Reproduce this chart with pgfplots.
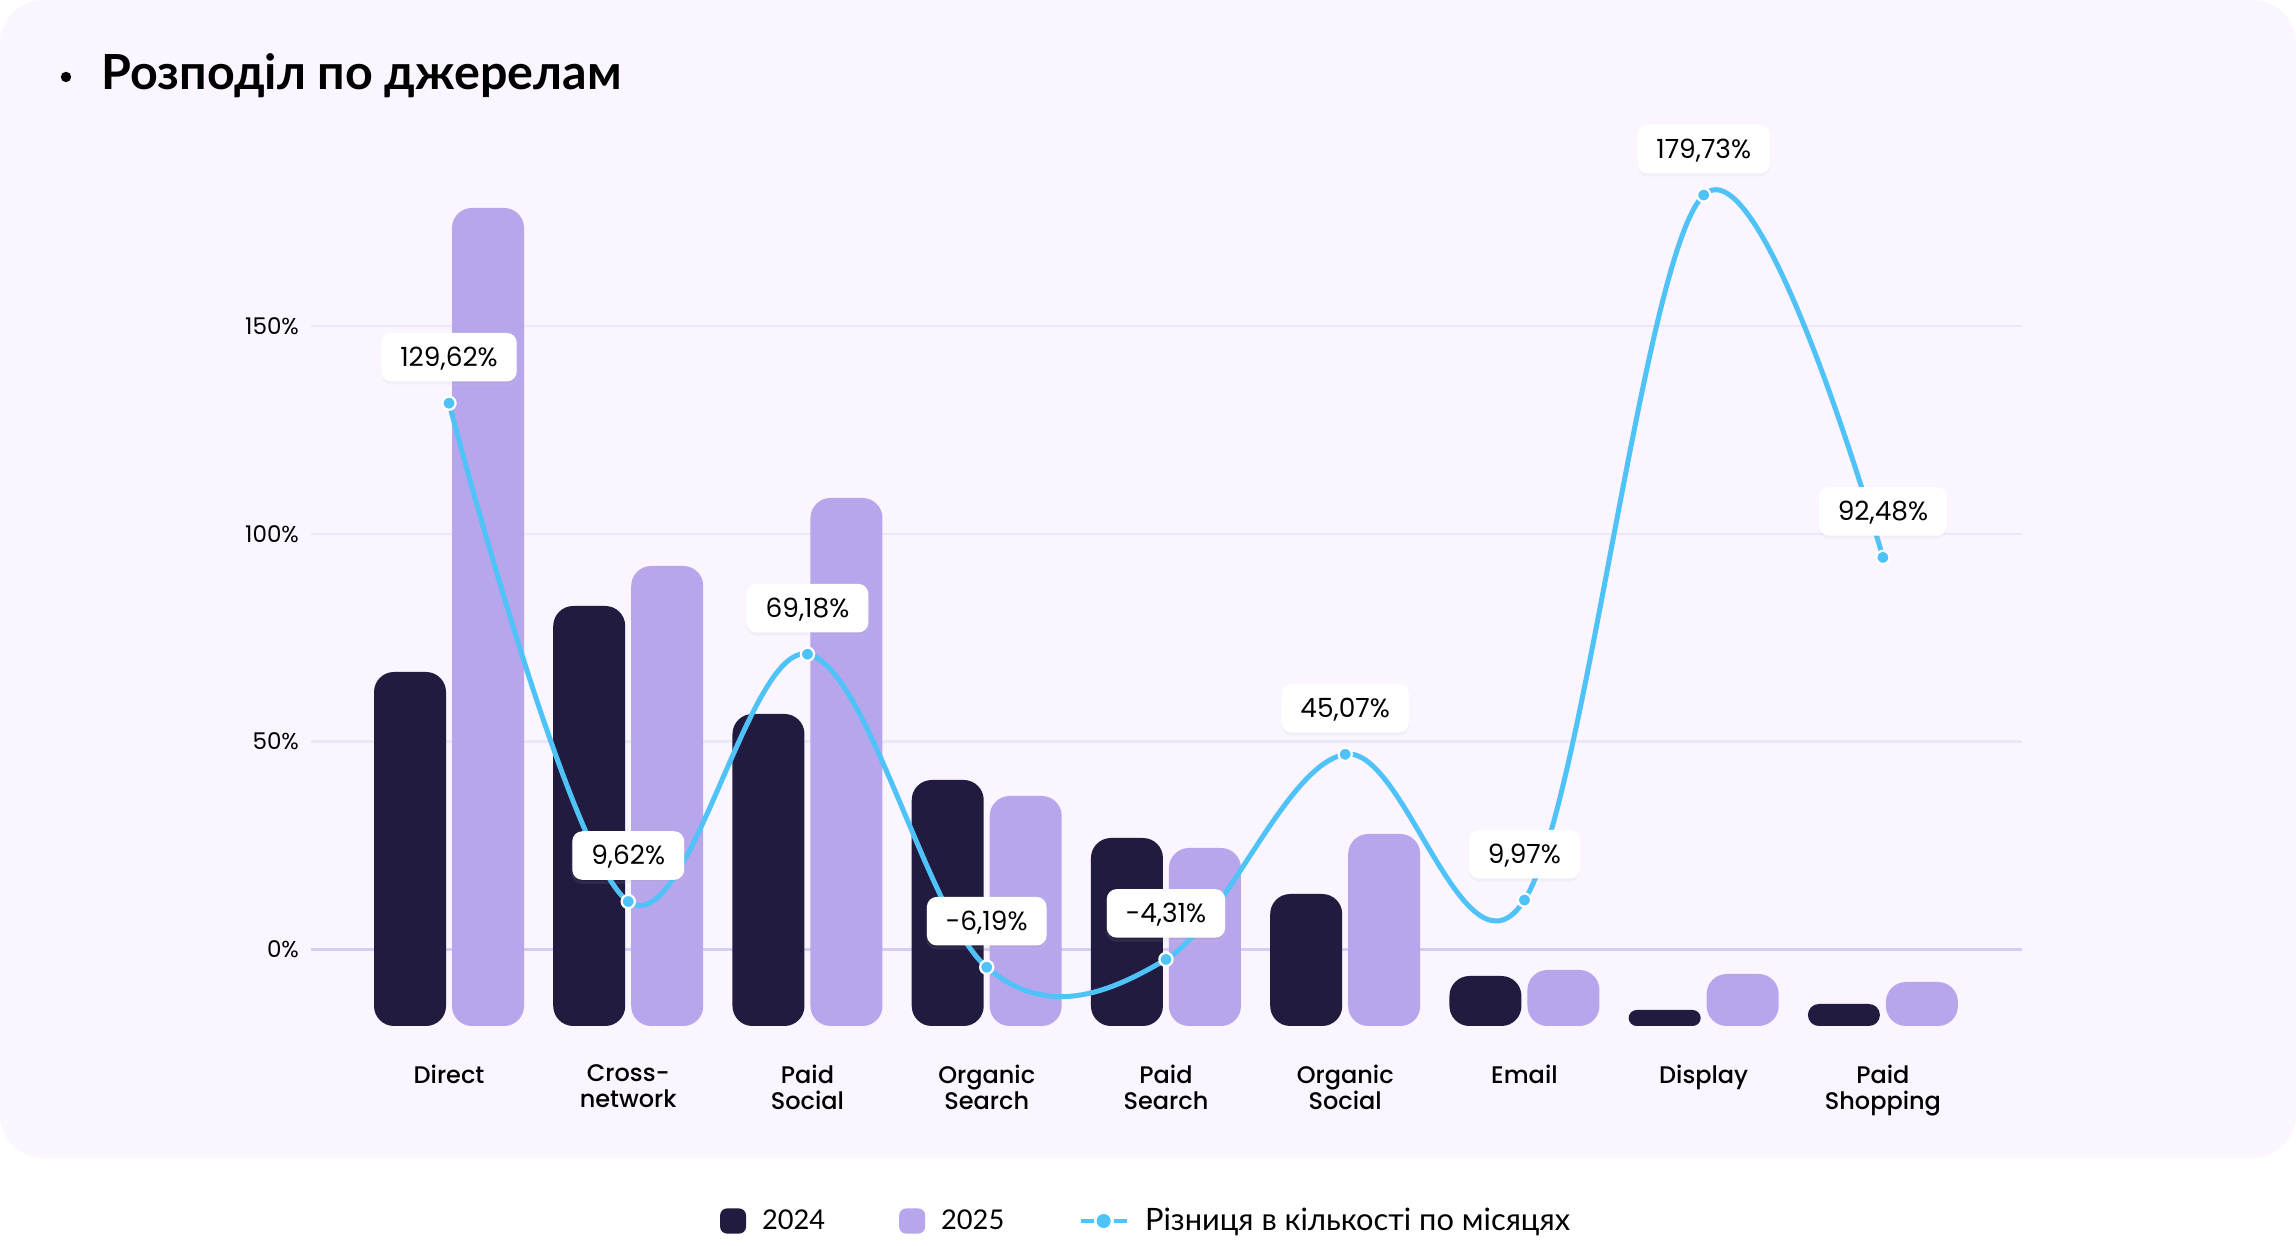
\documentclass[border=0pt]{standalone}
\usepackage{fontspec}
\setmainfont{Poppins}
\newfontfamily\poppinsmed{Poppins Medium}
\newfontfamily\lato{Lato}
\usepackage{pgfplots}
\pgfplotsset{compat=1.18}
\usetikzlibrary{shadows}
\definecolor{cardbg}{RGB}{250,245,254}
\definecolor{bar24}{RGB}{34,27,64}
\definecolor{bar25}{RGB}{183,166,235}
\definecolor{linec}{RGB}{79,195,247}
\definecolor{gridc}{RGB}{236,231,250}
\definecolor{zeroc}{RGB}{214,205,242}
\begin{document}
\begin{tikzpicture}
\fill[white] (0pt,0pt) rectangle (1148pt,623pt);
\fill[cardbg, rounded corners=22pt] (0pt,44pt) rectangle (1148pt,623pt);
\fill[black] (33pt,584.5pt) circle (2.6pt);
\node[anchor=base west, inner sep=0pt, font=\lato\bfseries\fontsize{24.2}{28}\selectfont] at (50.5pt,578pt) {Розподіл по джерелам};

\begin{axis}[
  at={(155.35pt,110pt)}, anchor=south west,
  scale only axis, width=855.65pt, height=463pt,
  xmin=-0.7716, xmax=8.776, ymin=0, ymax=926,
  axis line style={draw=none},
  major tick length=0pt,
  ybar, bar width=36pt,
  xtick={0,...,8},
  xticklabels={Direct,{Cross-\\network},{Paid\\Social},{Organic\\Search},{Paid\\Search},{Organic\\Social},Email,Display,{Paid\\Shopping}},
  xticklabel style={align=center, font=\poppinsmed\fontsize{12}{13}\selectfont, anchor=north, yshift=-16pt, text=black},
  ytick={284.3,492.1,699.9},
  yticklabels={50\%,100\%,150\%},
  extra y ticks={76.5},
  extra y tick labels={0\%},
  extra y tick style={grid style={zeroc, line width=1.4pt}},
  ymajorgrids, grid style={gridc, line width=1.3pt},
  yticklabel style={font=\fontsize{11.5}{13}\selectfont, anchor=east, xshift=-2.35pt, text=black},
  clip=false,
  legend columns=3,
  legend style={at={(0.4887,-0.2106)}, anchor=center, draw=none, fill=none,
    font=\lato\fontsize{15.4}{17}\selectfont, column sep=6pt,
    /tikz/every even column/.append style={column sep=35pt}},
  legend cell align=left,
]
\addplot[fill=bar24, draw=none, rounded corners=10pt, bar shift=-19.5pt,
  legend image code/.code={\fill[bar24, rounded corners=3.5pt] (0pt,-6.3pt) rectangle (13pt,6.3pt);}]
  coordinates {(0,354) (1,420) (2,312) (3,246) (4,188) (5,132) (6,50)};
\addlegendentry{\fontsize{13.6}{16}\selectfont 2024}
\addplot[forget plot, fill=bar24, draw=none, rounded corners=4pt, bar shift=-19.5pt] coordinates {(7,16)};
\addplot[forget plot, fill=bar24, draw=none, rounded corners=5.5pt, bar shift=-19.5pt] coordinates {(8,22)};
\addplot[fill=bar25, draw=none, rounded corners=10pt, bar shift=19.5pt,
  legend image code/.code={\fill[bar25, rounded corners=3.5pt] (0pt,-6.3pt) rectangle (13pt,6.3pt);}]
  coordinates {(0,818) (1,460) (2,528) (3,230) (4,178) (5,192) (6,56) (7,52) (8,44)};
\addlegendentry{\fontsize{13.6}{16}\selectfont 2025}
\addlegendimage{legend image code/.code={
  \draw[linec, line width=2.4pt] (0pt,0pt) -- (6.5pt,0pt);
  \draw[linec, line width=2.4pt] (16.5pt,0pt) -- (23pt,0pt);
  \fill[linec] (11.5pt,0pt) circle (3.3pt);}}
\addlegendentry{Різниця в кількості по місяцях}
\end{axis}

\begin{axis}[
  at={(155.35pt,110pt)}, anchor=south west,
  scale only axis, width=855.65pt, height=463pt,
  xmin=-0.7716, xmax=8.776, ymin=-20.347, ymax=202.62,
  hide axis, clip=false,
]
\addplot[linec, line width=2.5pt, smooth, tension=0.6,
  mark=*, mark size=3.3pt, mark options={fill=linec, draw=white, line width=1.1pt},
  nodes near coords={\pgfmathprintnumber[fixed,fixed zerofill,precision=2,use comma,assume math mode=true]{\pgfplotspointmeta}\%},
  every node near coord/.append style={anchor=center, yshift=23pt, fill=white, draw=none, text=black,
    rounded corners=5pt, inner xsep=9.5pt, inner ysep=7.5pt, text height=9.3pt, text depth=0pt,
    font=\fontsize{13.2}{15}\selectfont,
    drop shadow={shadow xshift=0pt, shadow yshift=-1.5pt, opacity=0.06}}]
  coordinates {(0,129.62) (1,9.62) (2,69.18) (3,-6.19) (4,-4.31) (5,45.07) (6,9.97) (7,179.73) (8,92.48)};
\end{axis}
\end{tikzpicture}
\end{document}
